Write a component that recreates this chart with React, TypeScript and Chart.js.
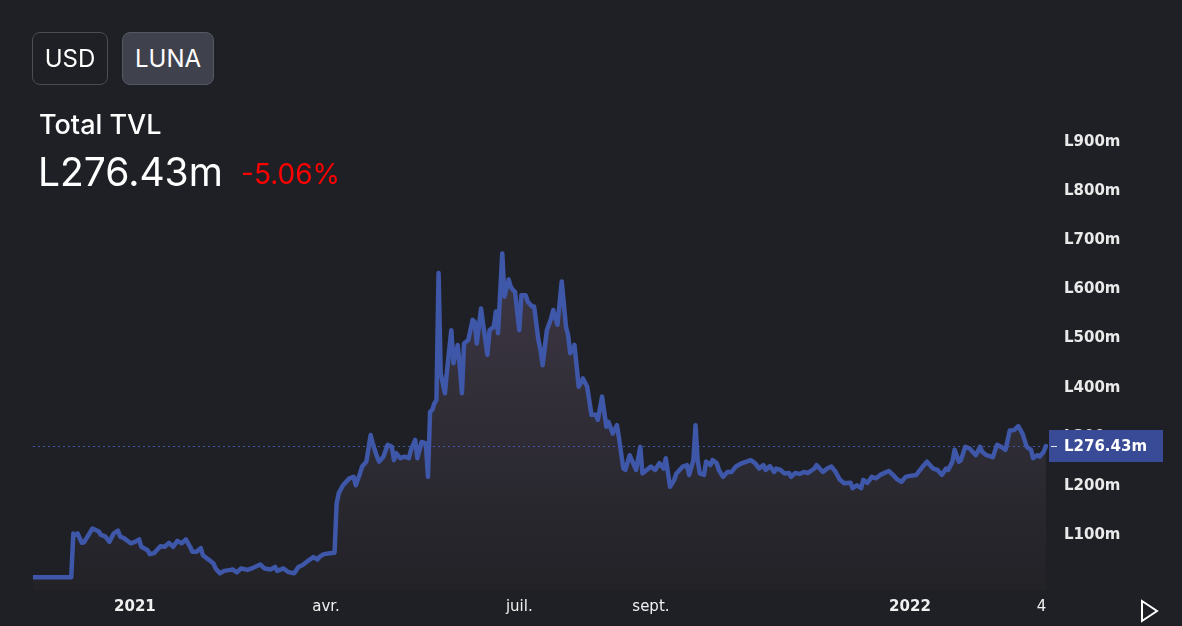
import React, { useEffect, useRef } from 'react';
import { Chart, registerables } from 'chart.js';

Chart.register(...registerables);

// Days relative to 2021-01-01
const dayOffsets = [
  -48, -30, -29, -28, -27, -25, -24, -20, -17, -16, -14, -12, -10, -8, -7, -5, -2, 0, 2, 3,
  6, 7, 9, 12, 14, 16, 18, 20, 22, 24, 26, 27, 29, 31, 32, 34, 35, 37, 38, 40,
  42, 45, 46, 48, 50, 53, 55, 59, 61, 64, 66, 67, 70, 72, 75, 77, 79, 82, 84, 86,
  87, 89, 92, 94, 95, 96, 98, 101, 103, 104, 106, 107, 109, 111, 112, 114, 115, 117, 119, 121,
  122, 123, 125, 127, 129, 130, 132, 133, 135, 137, 138, 139, 140, 141, 142, 143, 144, 146, 147, 149,
  150, 152, 153, 154, 155, 157, 159, 160, 161, 163, 165, 166, 167, 169, 170, 171, 173, 174, 176, 177,
  178, 179, 181, 182, 184, 185, 187, 188, 190, 191, 192, 194, 196, 197, 199, 201, 203, 204, 205, 207,
  209, 211, 213, 215, 217, 218, 220, 222, 223, 225, 227, 228, 230, 231, 233, 236, 238, 239, 241, 243,
  245, 247, 249, 250, 252, 254, 255, 258, 260, 261, 263, 264, 265, 266, 268, 269, 271, 272, 274, 275,
  277, 279, 281, 283, 286, 288, 290, 292, 294, 296, 297, 299, 301, 302, 304, 306, 308, 309, 311, 313,
  315, 317, 320, 321, 324, 326, 328, 330, 332, 334, 337, 338, 340, 342, 343, 345, 347, 349, 351, 355,
  357, 359, 361, 363, 365, 368, 369, 371, 373, 375, 376, 378, 380, 382, 383, 385, 386, 388, 389, 391,
  393, 396, 398, 399, 401, 404, 406, 408, 410, 412, 414, 416, 418, 420, 422, 423, 425, 426, 428, 429,
];

// Total TVL in millions of LUNA
const tvlMillions = [
  10, 10, 99, 96, 99, 80, 81, 109, 103, 96, 93, 82, 99, 105, 93, 89, 79, 82, 87, 72,
  65, 57, 59, 73, 72, 80, 72, 84, 79, 87, 72, 62, 62, 69, 55, 48, 45, 38, 28, 18,
  23, 25, 26, 20, 28, 25, 28, 36, 28, 26, 31, 23, 28, 21, 18, 31, 35, 45, 51, 46,
  52, 57, 59, 60, 160, 181, 197, 211, 214, 197, 221, 235, 245, 299, 282, 255, 245, 255, 279, 275,
  248, 262, 252, 255, 252, 269, 289, 252, 285, 282, 214, 346, 350, 363, 370, 628, 424, 384, 431, 512,
  445, 482, 438, 384, 485, 492, 533, 529, 485, 556, 492, 462, 512, 519, 550, 506, 668, 580, 615, 600,
  594, 590, 512, 583, 583, 570, 560, 560, 492, 472, 441, 512, 536, 553, 523, 611, 519, 502, 465, 482,
  397, 414, 397, 340, 340, 330, 377, 316, 326, 302, 319, 292, 231, 228, 258, 228, 275, 221, 228, 235,
  228, 242, 231, 252, 194, 208, 221, 235, 238, 218, 248, 319, 248, 221, 218, 245, 238, 248, 242, 228,
  214, 224, 224, 235, 242, 245, 248, 242, 231, 238, 228, 236, 224, 231, 228, 221, 222, 214, 222, 220,
  224, 222, 231, 238, 224, 231, 235, 224, 208, 201, 202, 191, 197, 191, 208, 202, 214, 211, 218, 226,
  218, 209, 204, 214, 216, 218, 224, 235, 245, 235, 231, 228, 218, 231, 228, 245, 269, 245, 248, 275,
  272, 258, 275, 265, 258, 254, 279, 275, 269, 308, 309, 317, 302, 275, 269, 252, 258, 255, 265, 276.43,
];

const xTickDays = [0, 90, 181, 243, 365, 427];
const xTickLabels = ['2021', 'avr.', 'juil.', 'sept.', '2022', '4'];
const xTickBold = [true, false, false, false, true, false];
const yTickValues = [100, 200, 300, 400, 500, 600, 700, 800, 900];

const titleText = 'Total TVL';
const valueText = 'L276.43m';
const changeText = '-5.06%';
const currencyButtons = ['USD', 'LUNA'];

const BG = '#1f2025';
const LINE = '#3e57a9';
const AXIS_FONT = 'DejaVu Sans';

export default function App() {
  const canvasRef = useRef<HTMLCanvasElement | null>(null);

  useEffect(() => {
    const canvas = canvasRef.current;
    if (!canvas) return;
    const lastValue = tvlMillions[tvlMillions.length - 1];

    const priceLine = {
      id: 'priceLine',
      afterDatasetsDraw(chart: any) {
        const { ctx, chartArea, scales } = chart;
        const y = Math.round(scales.y.getPixelForValue(lastValue)) + 0.5;
        ctx.save();
        ctx.strokeStyle = LINE;
        ctx.lineWidth = 1;
        ctx.setLineDash([2, 3]);
        ctx.beginPath();
        ctx.moveTo(chartArea.left, y);
        ctx.lineTo(chartArea.right, y);
        ctx.stroke();
        ctx.restore();
      },
      afterDraw(chart: any) {
        const { ctx, chartArea, scales } = chart;
        const y = Math.round(scales.y.getPixelForValue(lastValue));
        const x0 = chartArea.right + 1;
        ctx.save();
        ctx.fillStyle = '#394a96';
        ctx.fillRect(x0, y - 16, 114, 32);
        ctx.strokeStyle = '#e8e8f0';
        ctx.lineWidth = 1;
        ctx.beginPath();
        ctx.moveTo(x0 + 2, y + 0.5);
        ctx.lineTo(x0 + 8, y + 0.5);
        ctx.stroke();
        ctx.fillStyle = '#ffffff';
        ctx.font = `bold 15px "${AXIS_FONT}"`;
        ctx.textBaseline = 'middle';
        ctx.textAlign = 'left';
        ctx.fillText('L' + lastValue.toFixed(2) + 'm', chartArea.right + 16, y + 1);
        ctx.restore();
      },
    };

    const chart = new Chart(canvas, {
      type: 'line',
      data: {
        datasets: [
          {
            data: dayOffsets.map((d, i) => ({ x: d, y: tvlMillions[i] })),
            borderColor: LINE,
            borderWidth: 4.5,
            borderJoinStyle: 'round',
            borderCapStyle: 'round',
            pointRadius: 0,
            tension: 0,
            fill: 'start',
            backgroundColor: (c: any) => {
              const area = c.chart.chartArea;
              if (!area) return 'rgba(60,55,70,0.8)';
              const g = c.chart.ctx.createLinearGradient(0, area.top, 0, area.bottom);
              g.addColorStop(0, '#4a4152');
              g.addColorStop(1, '#222227');
              return g;
            },
          },
        ],
      },
      options: {
        animation: false,
        responsive: false,
        maintainAspectRatio: false,
        layout: { padding: { left: 33, top: 110, right: 0, bottom: 0 } },
        plugins: { legend: { display: false }, tooltip: { enabled: false } },
        scales: {
          x: {
            type: 'linear',
            min: -48,
            max: 430,
            grid: { display: false },
            border: { display: false },
            afterBuildTicks: (axis: any) => {
              axis.ticks = xTickDays.map((v) => ({ value: v }));
            },
            afterFit: (axis: any) => {
              axis.height = 36;
            },
            ticks: {
              autoSkip: false,
              maxRotation: 0,
              padding: 0,
              color: '#f0f0f0',
              font: (c: any) => ({
                family: AXIS_FONT,
                size: 15,
                weight: xTickBold[c.index] ? 'bold' : 'normal',
              }),
              callback: (_v: any, i: number) => xTickLabels[i],
            },
          },
          y: {
            type: 'linear',
            position: 'right',
            min: -15.85,
            max: 959.4,
            grid: { display: false },
            border: { display: false },
            afterBuildTicks: (axis: any) => {
              axis.ticks = yTickValues.map((v) => ({ value: v }));
            },
            afterFit: (axis: any) => {
              axis.width = 134;
            },
            ticks: {
              padding: 8,
              labelOffset: 2.5,
              color: '#eaeaea',
              font: { family: AXIS_FONT, size: 15, weight: 'bold' },
              callback: (v: any) => 'L' + v + 'm',
            },
          },
        },
      },
      plugins: [priceLine],
    } as any);

    return () => chart.destroy();
  }, []);

  const btnBase: React.CSSProperties = {
    position: 'absolute',
    top: 32,
    height: 53,
    boxSizing: 'border-box',
    borderRadius: 8,
    display: 'flex',
    alignItems: 'center',
    justifyContent: 'center',
    color: '#ffffff',
    fontFamily: 'Inter, sans-serif',
    fontSize: 24,
  };

  return (
    <div style={{ position: 'fixed', left: 0, top: 0, width: 1182, height: 626, background: BG, overflow: 'hidden' }}>
      <canvas ref={canvasRef} width={1182} height={626} style={{ position: 'absolute', left: 0, top: 0, width: 1182, height: 626 }} />
      <div style={{ ...btnBase, left: 32, width: 76, border: '1px solid #4b4c55', background: 'transparent' }}>
        {currencyButtons[0]}
      </div>
      <div style={{ ...btnBase, left: 122, width: 92, border: '1px solid #555862', background: '#3f424c' }}>
        {currencyButtons[1]}
      </div>
      <div
        style={{
          position: 'absolute',
          left: 39,
          top: 111,
          fontFamily: 'Inter, sans-serif',
          fontSize: 27,
          fontWeight: 500,
          lineHeight: '27px',
          color: '#ffffff',
          whiteSpace: 'nowrap',
        }}
      >
        {titleText}
      </div>
      <div
        style={{
          position: 'absolute',
          left: 38,
          top: 152,
          fontFamily: 'Inter, sans-serif',
          fontSize: 39,
          lineHeight: '39px',
          color: '#ffffff',
          whiteSpace: 'nowrap',
        }}
      >
        {valueText}
      </div>
      <div
        style={{
          position: 'absolute',
          left: 241,
          top: 160,
          fontFamily: 'Inter, sans-serif',
          fontSize: 28,
          lineHeight: '28px',
          color: '#ff0000',
          whiteSpace: 'nowrap',
        }}
      >
        {changeText}
      </div>
      <svg style={{ position: 'absolute', left: 1140, top: 599 }} width={20} height={25}>
        <polygon points="2,2 17,12 2,22" fill="none" stroke="#ffffff" strokeWidth={2} strokeLinejoin="miter" />
      </svg>
    </div>
  );
}
